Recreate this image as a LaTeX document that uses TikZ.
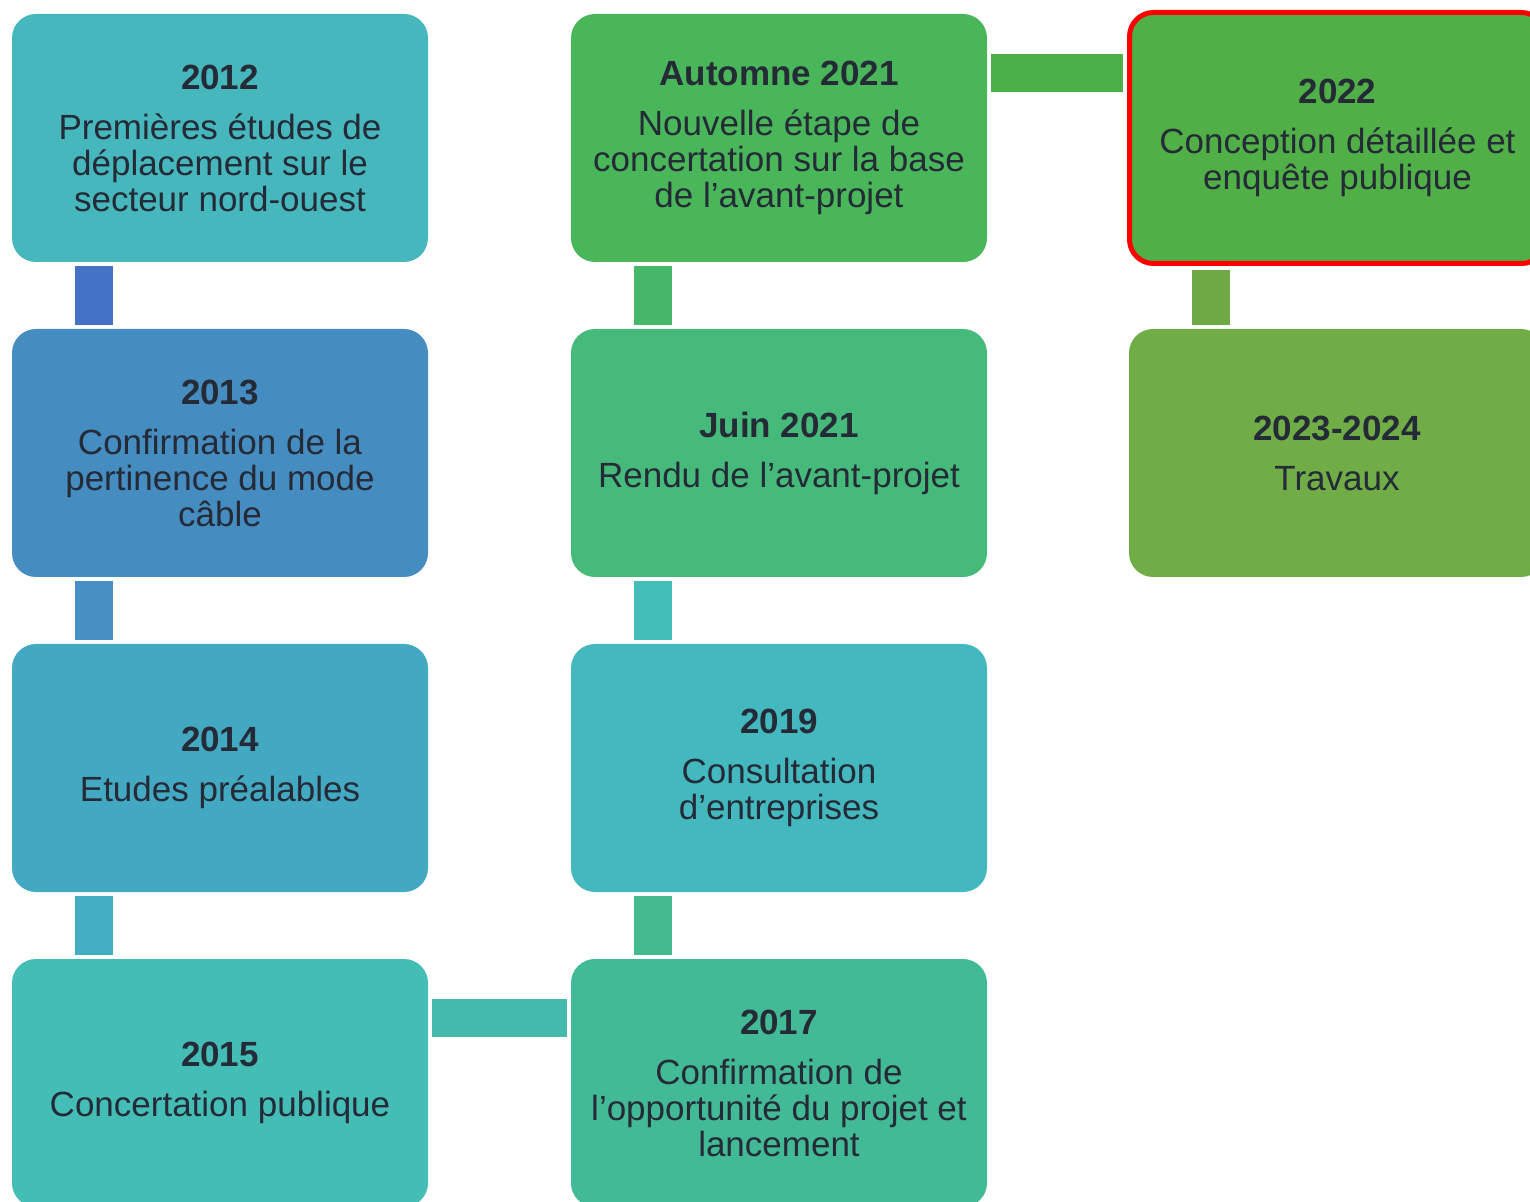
\documentclass[tikz,border=0pt]{standalone}
\usepackage{fontspec}
\setmainfont{Liberation Sans}
\definecolor{txt}{HTML}{252B36}
\definecolor{c2012}{HTML}{45B7BD}
\definecolor{c2013}{HTML}{458CC1}
\definecolor{c2014}{HTML}{43A8C1}
\definecolor{c2015}{HTML}{43BDB6}
\definecolor{c2017}{HTML}{43BA96}
\definecolor{c2019}{HTML}{43B8BE}
\definecolor{cjuin}{HTML}{45BA7B}
\definecolor{cautomne}{HTML}{49B65A}
\definecolor{c2022}{HTML}{51AF47}
\definecolor{c2023}{HTML}{70AD47}
\definecolor{l2012}{HTML}{4472C4}
\definecolor{l2013}{HTML}{4690C4}
\definecolor{l2014}{HTML}{43AEC1}
\definecolor{l2015}{HTML}{44BAAC}
\definecolor{l2017}{HTML}{43BB8E}
\definecolor{l2019}{HTML}{44BEB8}
\definecolor{ljuin}{HTML}{47B76A}
\definecolor{lautomne}{HTML}{4CB049}
\definecolor{l2022}{HTML}{6FAA46}
\tikzset{
  etape/.style={rectangle, rounded corners=12pt, minimum width=208pt, minimum height=124pt,
    inner sep=0pt, align=center, text=txt, font=\fontsize{17.5}{18}\selectfont},
  lien/.style={line width=19pt, shorten <=2pt, shorten >=2pt}
}
\newcommand{\etp}[2]{\textbf{#1}\\[7pt]#2}
\begin{document}
\begin{tikzpicture}[x=0.5pt,y=-0.5pt]
\useasboundingbox (0,0) rectangle (1530,1202);
\clip (0,0) rectangle (1530,1202);
% first column
\node[etape, fill=c2012] (e2012) at (220,138) {\etp{2012}{Premières études de\\déplacement sur le\\secteur nord-ouest}};
\node[etape, fill=c2013] (e2013) at (220,453) {\etp{2013}{Confirmation de la\\pertinence du mode\\câble}};
\node[etape, fill=c2014] (e2014) at (220,768) {\etp{2014}{Etudes préalables}};
\node[etape, fill=c2015] (e2015) at (220,1083) {\etp{2015}{Concertation publique}};
% second column
\node[etape, fill=c2017] (e2017) at (779,1083) {\etp{2017}{Confirmation de\\l’opportunité du projet et\\lancement}};
\node[etape, fill=c2019] (e2019) at (779,768) {\etp{2019}{Consultation\\d’entreprises}};
\node[etape, fill=cjuin] (ejuin) at (779,453) {\etp{Juin 2021}{Rendu de l’avant-projet}};
\node[etape, fill=cautomne] (eautomne) at (779,138) {\etp{Automne 2021}{Nouvelle étape de\\concertation sur la base\\de l’avant-projet}};
% third column
\node[etape, fill=c2022, draw=red, line width=2.5pt, minimum height=125.5pt] (e2022) at (1337.5,138) {\etp{2022}{Conception détaillée et\\enquête publique}};
\node[etape, fill=c2023] (e2023) at (1337,453) {\etp{2023-2024}{Travaux}};

% vertical links
\foreach \a/\b/\c in {e2012/e2013/l2012, e2013/e2014/l2013, e2014/e2015/l2014,
  eautomne/ejuin/ljuin, ejuin/e2019/l2019, e2019/e2017/l2017, e2022/e2023/l2022}
  \draw[lien, \c] ([xshift=41pt]\b.north west) coordinate (p) -- (p |- \a.south);
% horizontal links
\draw[lien, l2015] ([yshift=-29.5pt]e2015.north east) coordinate (q) -- (q -| e2017.west);
\draw[lien, lautomne] ([yshift=-29.5pt]eautomne.north east) coordinate (q) -- (q -| e2022.west);
\end{tikzpicture}
\end{document}
